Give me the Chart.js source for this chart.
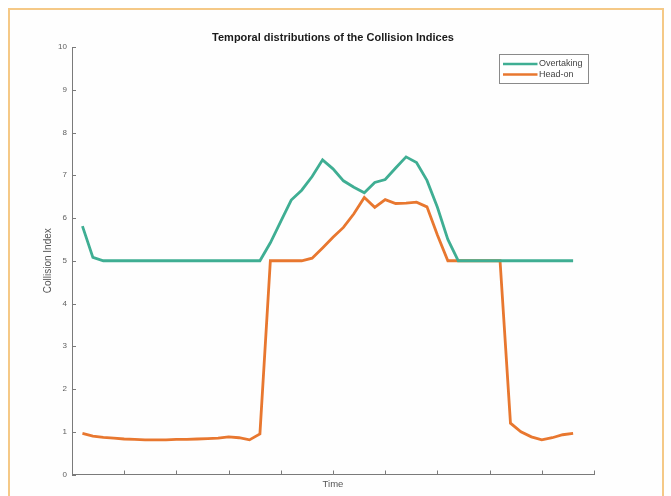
<!DOCTYPE html>
<html>
<head>
<meta charset="utf-8">
<script src="https://cdn.jsdelivr.net/npm/chart.js@4"></script>
<style>
  html, body { margin: 0; padding: 0; background: #ffffff; }
  #wrap { position: relative; width: 671px; height: 496px; overflow: hidden; }
  #frame { position: absolute; left: 8px; top: 8px; width: 652px; height: 500px;
           border: 2px solid #f5c987; background: #fefefe; }
  canvas { position: absolute; left: 0; top: 0; }
</style>
</head>
<body>
<div id="wrap">
  <div id="frame"></div>
  <canvas id="myLineChart" width="671" height="496"></canvas>
</div>
<script>
// time steps (x)
const timeSteps = [1, 2, 3, 4, 5, 6, 7, 8, 9, 10, 11, 12, 13, 14, 15, 16,
    17, 18, 19, 20, 21, 22, 23, 24, 25, 26, 27, 28, 29, 30, 31, 32,
    33, 34, 35, 36, 37, 38, 39, 40, 41, 42, 43, 44, 45, 46, 47, 48];

// Overtaking collision index
const overtaking = [5.81, 5.08, 5.0, 5.0, 5.0, 5.0, 5.0, 5.0, 5.0, 5.0, 5.0, 5.0,
    5.0, 5.0, 5.0, 5.0, 5.0, 5.0, 5.42, 5.92, 6.42, 6.65, 6.97, 7.36,
    7.15, 6.87, 6.72, 6.59, 6.83, 6.9, 7.17, 7.43, 7.3, 6.88, 6.25, 5.5,
    5.0, 5.0, 5.0, 5.0, 5.0, 5.0, 5.0, 5.0, 5.0, 5.0, 5.0, 5.0];

// Head-on collision index
const headOn = [0.96, 0.9, 0.87, 0.85, 0.83, 0.82, 0.81, 0.81, 0.81, 0.82, 0.82, 0.83,
    0.84, 0.85, 0.88, 0.86, 0.81, 0.95, 5.0, 5.0, 5.0, 5.0, 5.06, 5.3,
    5.55, 5.78, 6.1, 6.48, 6.25, 6.43, 6.34, 6.35, 6.37, 6.26, 5.6, 5.0,
    5.0, 5.0, 5.0, 5.0, 5.0, 1.2, 1.0, 0.88, 0.81, 0.86, 0.93, 0.96];

const yTicks = [0, 1, 2, 3, 4, 5, 6, 7, 8, 9, 10];

const tealColor = "#3fae93";
const orangeColor = "#e8772f";
const axisColor = "#7a7a7a";
const fontFamily = "'Liberation Sans', Arial, sans-serif";

function toPoints(ys) {
    return timeSteps.map((t, i) => ({ x: t, y: ys[i] }));
}

// 안쪽으로 향하는 눈금 (MATLAB 스타일)
const innerTicks = {
    id: "innerTicks",
    afterDatasetsDraw(chart) {
        const ctx = chart.ctx;
        const xs = chart.scales.x;
        const ys = chart.scales.y;
        const area = chart.chartArea;
        ctx.save();
        ctx.strokeStyle = axisColor;
        ctx.lineWidth = 1;
        ctx.beginPath();
        xs.ticks.forEach(t => {
            const px = Math.round(xs.getPixelForValue(t.value)) + 0.5;
            ctx.moveTo(px, area.bottom);
            ctx.lineTo(px, area.bottom - 4);
        });
        ys.ticks.forEach(t => {
            const py = Math.round(ys.getPixelForValue(t.value)) + 0.5;
            ctx.moveTo(area.left, py);
            ctx.lineTo(area.left + 4, py);
        });
        ctx.stroke();
        ctx.restore();
    }
};

// 범례 상자 (플롯 안 오른쪽 위)
const boxLegend = {
    id: "boxLegend",
    afterDraw(chart) {
        const ctx = chart.ctx;
        const area = chart.chartArea;
        const w = 89, h = 29;
        const left = Math.round(area.right - 6 - w) + 0.5;
        const top = Math.round(area.top + 7) + 0.5;
        ctx.save();
        ctx.fillStyle = "#ffffff";
        ctx.fillRect(left, top, w, h);
        ctx.strokeStyle = "#8a8a8a";
        ctx.lineWidth = 1;
        ctx.strokeRect(left, top, w, h);
        ctx.font = "9px " + fontFamily;
        ctx.textBaseline = "middle";
        ctx.textAlign = "left";
        chart.data.datasets.forEach((ds, i) => {
            const y = top + 9.5 + i * 10.5;
            ctx.strokeStyle = ds.borderColor;
            ctx.lineWidth = 2.6;
            ctx.beginPath();
            ctx.moveTo(left + 3.5, y);
            ctx.lineTo(left + 38, y);
            ctx.stroke();
            ctx.fillStyle = "#444444";
            ctx.fillText(ds.label, left + 39.5, y);
        });
        ctx.restore();
    }
};

const ctx = document.getElementById("myLineChart").getContext("2d");
const chart = new Chart(ctx, {
    type: "line",
    data: {
        datasets: [{
            label: "Overtaking",
            data: toPoints(overtaking),
            borderColor: tealColor,
            borderWidth: 2.8,
            pointRadius: 0,
            tension: 0,
            fill: false
        }, {
            label: "Head-on",
            data: toPoints(headOn),
            borderColor: orangeColor,
            borderWidth: 2.8,
            pointRadius: 0,
            tension: 0,
            fill: false
        }]
    },
    options: {
        responsive: false,
        animation: false,
        devicePixelRatio: 1,
        layout: {
            padding: { left: 0, top: 0, right: 77, bottom: 0 }
        },
        plugins: {
            legend: { display: false },
            tooltip: { enabled: false },
            title: {
                display: true,
                text: "Temporal distributions of the Collision Indices",
                fullSize: false,
                color: "#1a1a1a",
                font: { family: fontFamily, size: 11, weight: "bold" },
                padding: { top: 31, bottom: 2.8 }
            }
        },
        scales: {
            x: {
                type: "linear",
                min: 0,
                max: 50,
                afterFit(scale) { scale.height = 21.5; },
                ticks: {
                    stepSize: 5,
                    callback: () => ""
                },
                grid: { drawOnChartArea: false, drawTicks: false },
                border: { display: true, color: axisColor, width: 1 },
                title: {
                    display: true,
                    text: "Time",
                    color: "#555555",
                    font: { family: fontFamily, size: 9.5 },
                    padding: { top: 0, bottom: 5.5 }
                }
            },
            y: {
                min: 0,
                max: 10,
                afterFit(scale) { scale.width = 72; },
                afterBuildTicks(scale) {
                    scale.ticks = yTicks.map(v => ({ value: v }));
                },
                ticks: {
                    color: "#606060",
                    padding: 5,
                    font: { family: fontFamily, size: 8 }
                },
                grid: { drawOnChartArea: false, drawTicks: false },
                border: { display: true, color: axisColor, width: 1 },
                title: {
                    display: true,
                    text: "Collision Index",
                    color: "#555555",
                    font: { family: fontFamily, size: 10 },
                    padding: { top: 42, bottom: 0 }
                }
            }
        }
    },
    plugins: [innerTicks, boxLegend]
});
</script>
</body>
</html>
